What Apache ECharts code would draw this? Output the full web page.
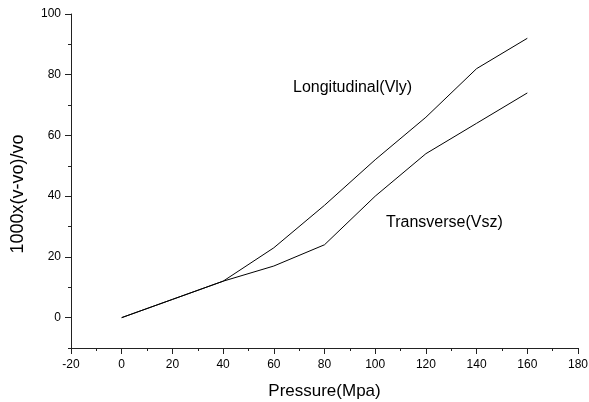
<!DOCTYPE html>
<html>
<head>
<meta charset="utf-8">
<script src="https://cdn.jsdelivr.net/npm/echarts@6/dist/echarts.min.js"></script>
<style>html,body{margin:0;padding:0;background:#fff}#c{width:589px;height:402px}</style>
</head>
<body>
<div id="c"></div>
<script>
var pressure = [0, 20, 40, 60, 80, 100, 120, 140, 160];
var longitudinal = [0, 6, 12, 23, 37, 52, 66, 82, 92];
var transverse = [0, 6, 12, 17, 24, 40, 54, 64, 74];
var xTicks = [-20, 0, 20, 40, 60, 80, 100, 120, 140, 160, 180];
var yTicks = [0, 20, 40, 60, 80, 100];
var yMinorTicks = [-10, 10, 30, 50, 70, 90];

function pairs(xs, ys) { return xs.map(function (x, i) { return [x, ys[i]]; }); }

var chart = echarts.init(document.getElementById('c'));
var font = 'Liberation Sans, Arial, sans-serif';
var axisColor = '#222';
chart.setOption({
  animation: false,
  grid: { left: 71, right: 11, top: 14, bottom: 54, outerBoundsMode: 'none', containLabel: false },
  xAxis: {
    type: 'value', min: -20, max: 180, interval: 20,
    name: 'Pressure(Mpa)', nameLocation: 'middle', nameGap: 35,
    nameTextStyle: { fontSize: 17, color: '#000', fontFamily: font },
    axisLine: { onZero: false, lineStyle: { color: axisColor, width: 1 } },
    axisTick: { length: 6, lineStyle: { color: axisColor } },
    minorTick: { show: true, splitNumber: 2, length: 3, lineStyle: { color: axisColor } },
    splitLine: { show: false },
    axisLabel: { fontSize: 12, color: '#000', fontFamily: font, margin: 11 }
  },
  yAxis: [{
    type: 'value', min: -10, max: 100, interval: 10,
    name: '1000x(v-vo)/vo', nameLocation: 'middle', nameGap: 44, nameRotate: 90,
    nameTextStyle: { fontSize: 18, color: '#000', fontFamily: font, padding: [0, 26, 0, 0] },
    axisLine: { show: true, onZero: false, lineStyle: { color: axisColor, width: 1 } },
    axisTick: { show: true, length: 6, customValues: yTicks, lineStyle: { color: axisColor } },
    splitLine: { show: false },
    axisLabel: {
      fontSize: 12, color: '#000', fontFamily: font, margin: 10,
      formatter: function (v) { return yTicks.indexOf(v) >= 0 ? String(v) : ''; }
    }
  }, {
    type: 'value', min: -10, max: 100, interval: 10, position: 'left', offset: 0,
    axisLine: { show: false, onZero: false },
    axisTick: { show: true, length: 3, customValues: yMinorTicks, lineStyle: { color: axisColor } },
    splitLine: { show: false },
    axisLabel: { show: false }
  }],
  series: [
    { type: 'line', data: pairs(pressure, longitudinal), symbol: 'none',
      lineStyle: { color: '#000', width: 1 } },
    { type: 'line', data: pairs(pressure, transverse), symbol: 'none',
      lineStyle: { color: '#000', width: 1 } }
  ],
  graphic: [
    { type: 'text', left: 293, top: 80, style: { text: 'Longitudinal(Vly)', fontSize: 16, fill: '#000', fontFamily: font } },
    { type: 'text', left: 386, top: 215, style: { text: 'Transverse(Vsz)', fontSize: 16, fill: '#000', fontFamily: font } }
  ]
});
</script>
</body>
</html>
